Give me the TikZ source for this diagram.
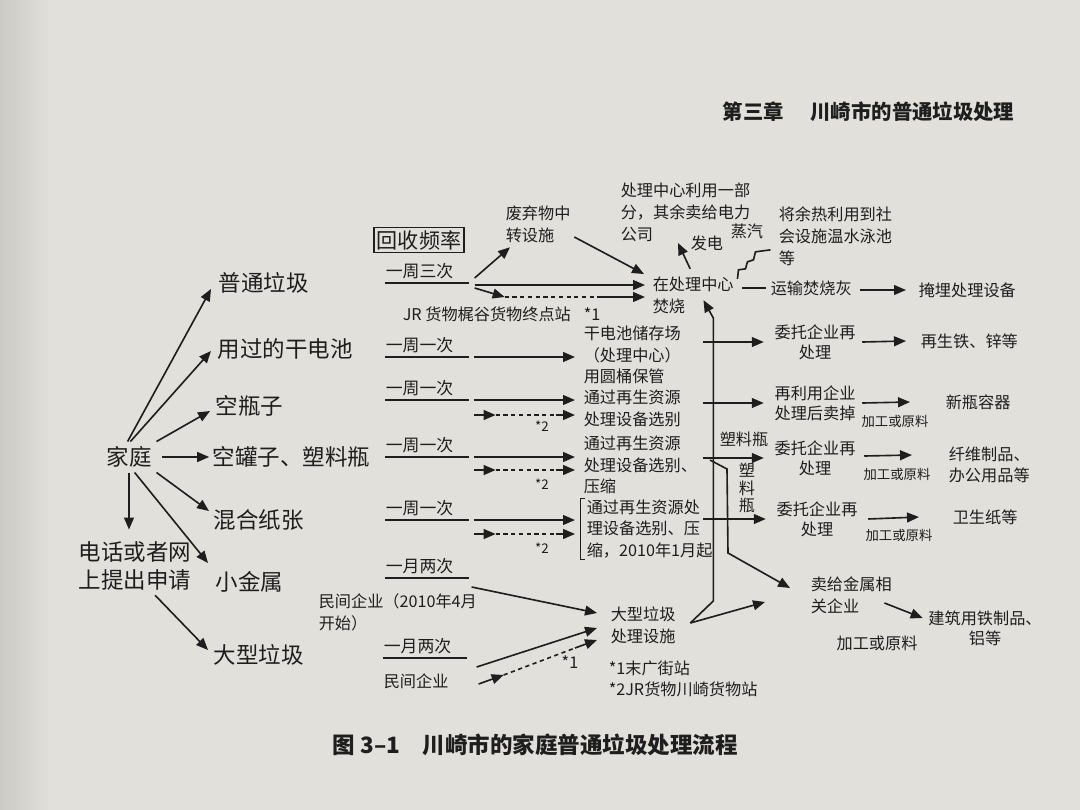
\documentclass[tikz,border=0pt]{standalone}
\usepackage{fontspec}
\setmainfont{Noto Sans CJK SC}
\usetikzlibrary{arrows.meta,calc}
\definecolor{paper}{RGB}{226,224,219}
\definecolor{ink}{RGB}{30,30,30}
\begin{document}
\begin{tikzpicture}[x=0.025cm,y=-0.025cm,line width=1.15pt,color=ink,
    big/.style={font=\fontsize{16}{20}\selectfont,inner sep=0,anchor=west},
    sm/.style={font=\fontsize{11.5}{15.5}\selectfont,inner sep=0,anchor=west,align=left},
    smc/.style={font=\fontsize{11.5}{14.5}\selectfont,inner sep=0,align=center},
    tiny/.style={font=\fontsize{9.5}{11}\selectfont,inner sep=0},
    freq/.style={font=\fontsize{12}{14}\selectfont,inner xsep=0,inner ysep=2pt,anchor=south west,text width=2.05cm,
        append after command={(\tikzlastnode.south west) edge (\tikzlastnode.south east)}},
    arr/.style={-{Triangle[length=8.5pt,width=7pt]}},
    dline/.style={dash pattern=on 3pt off 2.5pt}]
    \fill[paper] (0,0) rectangle (1080,810);
    \shade[left color=paper!90!black,right color=paper,draw=none] (0,0) rectangle (50,810);
    \useasboundingbox (0,0) rectangle (1080,810);

    \node[font=\fontsize{14.5}{16}\selectfont\bfseries,inner sep=0,anchor=west] (hd) at (722,112) {第三章\hspace{1.3em}川崎市的普通垃圾处理};
    \node[font=\fontsize{16}{20}\selectfont\bfseries,inner sep=0,anchor=west] (cap) at (332,745) {图 3–1\hspace{1em}川崎市的家庭普通垃圾处理流程};

    \node[big,anchor=center,inner sep=3pt] (jt) at (129,457) {家庭};
    \node[big] (g1) at (218,283) {普通垃圾};
    \node[big] (g2) at (217,349) {用过的干电池};
    \node[big] (g3) at (215,406) {空瓶子};
    \node[big] (g4) at (212,457) {空罐子、塑料瓶};
    \node[big] (g5) at (213,520) {混合纸张};
    \node[big] (g6) at (215,582) {小金属};
    \node[big] (g7) at (213,655) {大型垃圾};
    \node[big,align=left] (tel) at (78,566) {电话或者网\\上提出申请};

    \draw[arr] ([xshift=-1pt]jt.north) -- ([shift={(-7,6)}]g1.west);
    \draw[arr] ([xshift=1pt]jt.north) -- ([shift={(-6,2)}]g2.west);
    \draw[arr] (jt.north east) -- ([shift={(-5,5)}]g3.west);
    \draw[arr] ([xshift=4pt]jt.east) -- ([xshift=-2pt]g4.west);
    \draw[arr] (jt.south east) -- ([shift={(-4,-9)}]g5.west);
    \draw[arr] ([xshift=4pt]jt.south) -- ([shift={(-7,-19)}]g6.west);
    \draw[arr] (jt.south) -- ([yshift=8pt]jt.south |- tel.north);
    \draw[arr] ([shift={(20,4)}]tel.south) -- ([shift={(-5,-5)}]g7.west);

    \node[draw,line width=0.9pt,inner sep=2pt,font=\fontsize{15}{17}\selectfont] (hb) at (419,240) {回收频率};
    \node[freq] (q1) at (385,283) {一周三次};
    \node[freq] (q2) at (385,357) {一周一次};
    \node[freq] (q3) at (385,400) {一周一次};
    \node[freq] (q4) at (385,457) {一周一次};
    \node[freq] (q5) at (385,520) {一周一次};
    \node[freq] (q6) at (385,578) {一月两次};
    \node[freq] (q7) at (383,658) {一月两次};

    \node[sm] (zz) at (505,224) {废弃物中\\转设施};
    \node[sm] (fs) at (652,295) {在处理中心\\焚烧};
    \node[sm] (jr) at (402,314) {JR 货物梶谷货物终点站\hspace{0.8em}*1};
    \node[sm] (dj) at (583,355) {干电池储存场\\（处理中心）\\用圆桶保管};
    \node[sm] (zy1) at (583,408) {通过再生资源\\处理设备选别};
    \node[sm] (zy2) at (583,465) {通过再生资源\\处理设备选别、\\压缩};
    \node[sm] (zy3) at (586,529) {通过再生资源处\\理设备选别、压\\缩，2010年1月起};
    \draw[line width=0.8pt] ([xshift=-1pt]zy3.north west) -- ++(-4,0) |- ([xshift=-1pt]zy3.south west);
    \node[sm] (dx) at (610,625) {大型垃圾\\处理设施};
    \node[sm] (mj1) at (318,612) {民间企业（2010年4月\\开始）};
    \node[sm] (mj2) at (383,681) {民间企业};
    \node[sm] (fn) at (608,679) {*1末广街站\\*2JR货物川崎货物站};

    \draw[arr] ([shift={(6,2)}]q1.south east) -- ([shift={(-7,-10)}]fs.west);
    \draw[arr] ([shift={(6,-5)}]q1.south east) -- ([shift={(5,4)}]zz.south west);
    \draw[arr] ([shift={(6,5)}]q1.south east) -- ([shift={(36,14)}]q1.south east);
    \draw[dline] ([shift={(36,14)}]q1.south east) -- ([shift={(-52,2)}]fs.west);
    \draw[arr] ([shift={(-52,2)}]fs.west) -- ([shift={(-7,2)}]fs.west);
    \draw[arr] ([shift={(3,13)}]zz.east) -- ([shift={(-8,-21)}]fs.west);

    \draw[arr] ([shift={(5,0)}]q2.south east) -- ([shift={(-8,2)}]dj.west);

    \draw[arr] ([shift={(5,0)}]q3.south east) -- ([shift={(-8,-8)}]zy1.west);
    \draw[arr] ([shift={(5,15)}]q3.south east) -- ++(22,0);
    \draw[dline] ([shift={(27,15)}]q3.south east) -- ++(60,0);
    \draw[arr] ([shift={(87,15)}]q3.south east) -- ([shift={(-8,7)}]zy1.west);
    \node[tiny] (s2a) at (542,426) {*2};

    \draw[arr] ([shift={(5,0)}]q4.south east) -- ([shift={(-8,-8)}]zy2.west);
    \draw[arr] ([shift={(5,13)}]q4.south east) -- ++(22,0);
    \draw[dline] ([shift={(27,13)}]q4.south east) -- ++(60,0);
    \draw[arr] ([shift={(87,13)}]q4.south east) -- ([shift={(-8,5)}]zy2.west);
    \node[tiny] (s2b) at (542,484) {*2};

    \draw[arr] ([shift={(5,0)}]q5.south east) -- ([shift={(-11,-9)}]zy3.west);
    \draw[arr] ([shift={(5,14)}]q5.south east) -- ++(22,0);
    \draw[dline] ([shift={(27,14)}]q5.south east) -- ++(60,0);
    \draw[arr] ([shift={(87,14)}]q5.south east) -- ([shift={(-11,5)}]zy3.west);
    \node[tiny] (s2c) at (542,548) {*2};

    \draw[arr] ([shift={(3,9)}]q6.south east) -- ([shift={(-13,-12)}]dx.west);
    \draw[arr] ([shift={(10,9)}]q7.south east) -- ([shift={(-13,3)}]dx.west);
    \draw[arr] ([shift={(12,26)}]q7.south east) -- ([shift={(37,17)}]q7.south east);
    \draw[dline] ([shift={(37,17)}]q7.south east) -- ([shift={(-35,23)}]dx.west);
    \draw[arr] ([shift={(-35,23)}]dx.west) -- ([shift={(-13,15)}]dx.west);
    \node[sm,anchor=center] (s1) at (570,662) {*1};

    \node[sm] (cl) at (620,212) {处理中心利用一部\\分，其余卖给电力\\公司};
    \node[sm] (fd) at (690,243) {发电};
    \node[sm] (zq) at (730,231) {蒸汽};
    \node[sm] (yr) at (778,236) {将余热利用到社\\会设施温水泳池\\等};
    \node[sm] (ys) at (770,288) {运输焚烧灰};
    \node[sm] (ms) at (918,290) {掩埋处理设备};

    \draw[arr] ([shift={(-3,-7)}]fs.north) -- ([shift={(-12,0)}]fd.west);
    \draw ([shift={(3,3)}]fs.north east) -- ++(1,-9) -- ++(7,-1) -- ++(2,-7) -- ++(6,-2) -- ++(2,-8) -- ++(15,-2);
    \draw ([shift={(8,-7)}]fs.east) -- ([shift={(-4,0)}]ys.west);
    \draw[arr] ([shift={(8,2)}]ys.east) -- ([shift={(-12,0)}]ms.west);

    \node[smc] (wt1) at (815,342) {委托企业再\\处理};
    \node[sm] (zs) at (920,341) {再生铁、锌等};
    \node[smc] (zl) at (815,403) {再利用企业\\处理后卖掉};
    \node[sm] (xp) at (945,402) {新瓶容器};
    \node[tiny] (jg1) at (895,421) {加工或原料};
    \node[smc] (wt2) at (815,458) {委托企业再\\处理};
    \node[sm] (xw) at (948,465) {纤维制品、\\办公用品等};
    \node[tiny] (jg2) at (897,474) {加工或原料};
    \node[sm] (slp) at (719,439) {塑料瓶};
    \node[smc,font=\fontsize{11.5}{12.5}\selectfont] (slv) at (747,488) {塑\\料\\瓶};
    \node[smc] (wt3) at (817,519) {委托企业再\\处理};
    \node[sm] (ws) at (952,517) {卫生纸等};
    \node[tiny] (jg3) at (899,535) {加工或原料};
    \node[sm] (jm) at (810,595) {卖给金属相\\关企业};
    \node[smc] (jz) at (985,628) {建筑用铁制品、\\铝等};
    \node[smc] (jg4) at (877,643) {加工或原料};

    \coordinate (vx) at (703,0);
    \draw[arr] (wt1.west -| vx) -- ([shift={(-10,0)}]wt1.west);
    \draw[arr] (zl.west -| vx) -- ([shift={(-10,0)}]zl.west);
    \draw[arr] (wt2.west -| vx) -- ([shift={(-10,0)}]wt2.west);
    \draw[arr] (wt3.west -| vx) -- ([shift={(-10,0)}]wt3.west);
    \draw[arr] ($(wt2.west -| vx)+(7,2)$) -- ++(17,9) -- ++(1,84) -- ([shift={(-20,-7)}]jm.west);
    \draw[arr] ([shift={(14,-2)}]dx.east) -- ++(23,-22) -- ++(0,-283) -- ([shift={(-31,-14)}]fs.south east);
    \draw[arr] ([shift={(14,-2)}]dx.east) -- ([shift={(-45,7)}]jm.west);

    \draw[arr] ([shift={(6,0)}]wt1.east) -- ([shift={(-14,0)}]zs.west);
    \draw[arr] ([shift={(6,0)}]zl.east) -- ([shift={(-35,0)}]xp.west);
    \draw[arr] ([shift={(8,-2)}]wt2.east) -- ([shift={(-36,-10)}]xw.west);
    \draw[arr] ([shift={(10,0)}]wt3.east) -- ([shift={(-33,0)}]ws.west);
    \draw[arr] ([shift={(-8,8)}]jm.east) -- ([shift={(-5,-10)}]jz.west);
\end{tikzpicture}
\end{document}
